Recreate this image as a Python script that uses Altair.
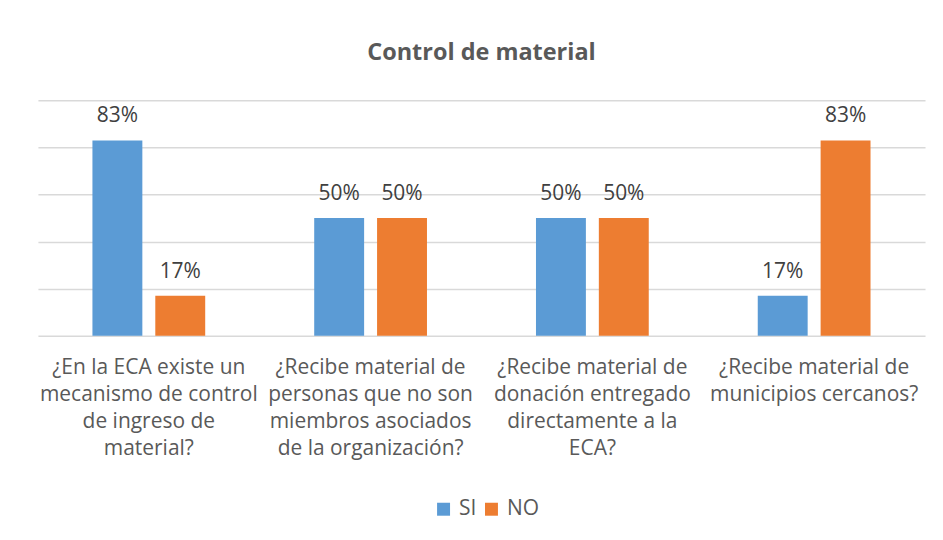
import altair as alt
import pandas as pd

# ---- data ----
preguntas = [
    ["¿En la ECA existe un", "mecanismo de control", "de ingreso de", "material?"],
    ["¿Recibe material de", "personas que no son", "miembros asociados", "de la organización?"],
    ["¿Recibe material de", "donación entregado", "directamente a la", "ECA?"],
    ["¿Recibe material de", "municipios cercanos?"],
]
series = ["SI", "NO"]
si_vals = [0.83, 0.50, 0.50, 0.17]
no_vals = [0.17, 0.50, 0.50, 0.83]
colores = ["#5B9BD5", "#ED7D31"]

cats = ["\n".join(p) for p in preguntas]
rows = []
for c, s, n in zip(cats, si_vals, no_vals):
    rows.append({"pregunta": c, "serie": "SI", "valor": s})
    rows.append({"pregunta": c, "serie": "NO", "valor": n})
df = pd.DataFrame(rows)

FONT = "Open Sans"

x = alt.X(
    "pregunta:N",
    sort=cats,
    scale=alt.Scale(paddingInner=0, paddingOuter=0),
    axis=alt.Axis(
        title=None, labelAngle=0, domain=False, ticks=False, grid=False,
        labelExpr="split(datum.label, '\\n')",
        labelFont=FONT, labelFontSize=21, labelColor="#595959",
        labelLineHeight=27, labelPadding=21, labelLimit=0,
        labelBaseline="top",
    ),
)
xo = alt.XOffset("serie:N", sort=series,
                 scale=alt.Scale(paddingInner=0.206, paddingOuter=0.867))
y = alt.Y(
    "valor:Q",
    scale=alt.Scale(domain=[0, 1], nice=False),
    axis=alt.Axis(title=None, labels=False, ticks=False, domain=False,
                  values=[0, 0.2, 0.4, 0.6, 0.8, 1.0],
                  gridColor="#d9d9d9", gridWidth=1.5),
)

bars = alt.Chart(df).mark_bar().encode(
    x=x, xOffset=xo, y=y,
    color=alt.Color(
        "serie:N", sort=series,
        scale=alt.Scale(domain=series, range=colores),
        legend=alt.Legend(
            title=None, orient="none", legendX=396, legendY=399,
            direction="horizontal", symbolType="square", symbolSize=169,
            symbolStrokeWidth=0, labelFont=FONT, labelFontSize=21,
            labelColor="#595959", columnPadding=4, labelOffset=5, padding=0,
        ),
    ),
)

labels = alt.Chart(df).mark_text(
    dy=-18, baseline="alphabetic", fontSize=21, font=FONT, color="#404040"
).encode(
    x=x, xOffset=xo, y=y,
    text=alt.Text("valor:Q", format=".0%"),
)

chart = alt.layer(bars, labels).properties(
    width=889, height=236,
    title=alt.TitleParams(
        "Control de material", font=FONT, fontSize=23.5, fontWeight="bold",
        color="#595959", anchor="middle", baseline="alphabetic", offset=17,
    ),
    autosize=alt.AutoSizeParams(type="none"),
    padding={"left": 30, "top": 92, "right": 10, "bottom": 190},
    background="white",
).configure_view(strokeWidth=0)

chart.save("out.html", embed_options={"renderer": "svg", "actions": False})
